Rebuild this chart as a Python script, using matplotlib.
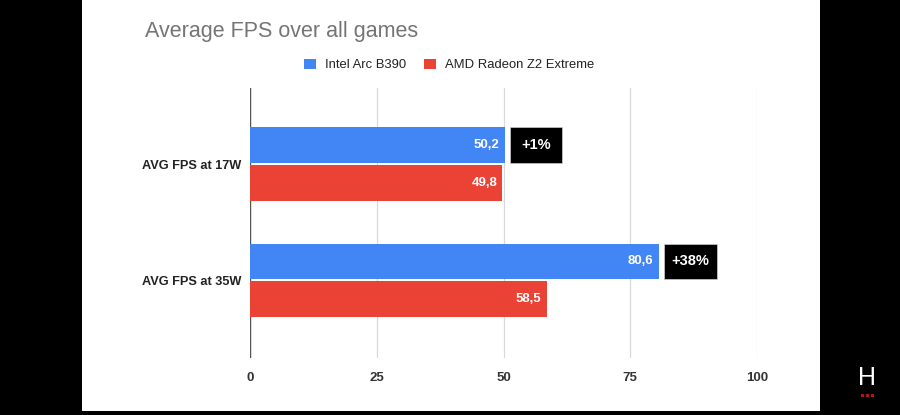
import matplotlib.pyplot as plt
from matplotlib.patches import Rectangle, Patch

plt.rcParams['font.family'] = ['Liberation Sans', 'DejaVu Sans']

# data
categories = ['AVG FPS at 17W', 'AVG FPS at 35W']
intel_fps = [50.2, 80.6]
amd_fps = [49.8, 58.5]
gain_labels = ['+1%', '+38%']
series_names = ['Intel Arc B390', 'AMD Radeon Z2 Extreme']
x_ticks = [0, 25, 50, 75, 100]

blue = '#4285F4'
red = '#EA4335'

fig = plt.figure(figsize=(9, 4.15), dpi=100, facecolor='black')

# white card on black background
fig.patches.append(Rectangle((82 / 900, 4 / 415), 738 / 900, 411 / 415,
                             transform=fig.transFigure, facecolor='white',
                             edgecolor='none', zorder=-5))

ax = fig.add_axes([250 / 900, 1 - 358 / 415, 507 / 900, 270 / 415])
ax.set_facecolor('none')
ax.set_zorder(2)

bar_h = 0.305
gap = 0.01
ypos = list(range(len(categories)))
y_blue = [y - bar_h / 2 - gap for y in ypos]
y_red = [y + bar_h / 2 + gap for y in ypos]

ax.barh(y_blue, intel_fps, height=bar_h, color=blue, zorder=3)
ax.barh(y_red, amd_fps, height=bar_h, color=red, zorder=3)

for yb, yr, vi, va, g in zip(y_blue, y_red, intel_fps, amd_fps, gain_labels):
    ax.text(vi - 1.0, yb, f'{vi:.1f}'.replace('.', ','), ha='right', va='center',
            color='white', fontsize=9.5, fontweight='bold', zorder=4)
    ax.text(va - 1.0, yr, f'{va:.1f}'.replace('.', ','), ha='right', va='center',
            color='white', fontsize=9.5, fontweight='bold', zorder=4)
    bw = 10.6 if len(g) > 3 else 10.4
    ax.add_patch(Rectangle((vi + 1.0, yb - bar_h / 2), bw, bar_h,
                           facecolor='black', edgecolor='#cccccc', lw=0.5, zorder=4))
    ax.text(vi + 1.0 + bw / 2, yb, g, ha='center', va='center', color='white',
            fontsize=10.5, fontweight='bold', zorder=5)

ax.set_xlim(0, 100)
ax.set_ylim(1.67, -0.655)
ax.set_xticks(x_ticks)
ax.set_xticklabels([str(t) for t in x_ticks], fontsize=9.5, fontweight='bold', color='#333333')
ax.set_yticks(ypos)
ax.set_yticklabels(categories, fontsize=9.2, fontweight='bold', color='#222222')
ax.tick_params(axis='both', length=0, pad=10)
ax.tick_params(axis='y', pad=6)
ax.grid(axis='x', color='#d9d9d9', lw=0.9, zorder=0)
ax.axvline(0, color='#555555', lw=1.0, zorder=2)
for s in ax.spines.values():
    s.set_visible(False)

fig.text(145 / 900, 1 - 32 / 415, 'Average FPS over all games', fontsize=15.5,
         color='#757575', va='center', ha='left')

handles = [Patch(facecolor=blue, edgecolor='none'), Patch(facecolor=red, edgecolor='none')]
fig.legend(handles, series_names, loc='center', bbox_to_anchor=(449 / 900, 1 - 65 / 415),
           ncol=2, frameon=False, fontsize=9.4, handlelength=0.9, handleheight=0.9,
           handletextpad=0.7, columnspacing=1.4, labelcolor='#222222')

# logo
fig.text(867 / 900, 1 - 378 / 415, 'H', color='white', fontsize=18, ha='center', va='center')
for dx in (-5, 0, 5):
    fig.patches.append(Rectangle(((867 + dx - 1.5) / 900, 1 - 397 / 415), 3.5 / 900, 3.5 / 415,
                                 transform=fig.transFigure, facecolor='#b01515',
                                 edgecolor='none'))

fig.savefig('out.png', dpi=100, facecolor=fig.get_facecolor())
